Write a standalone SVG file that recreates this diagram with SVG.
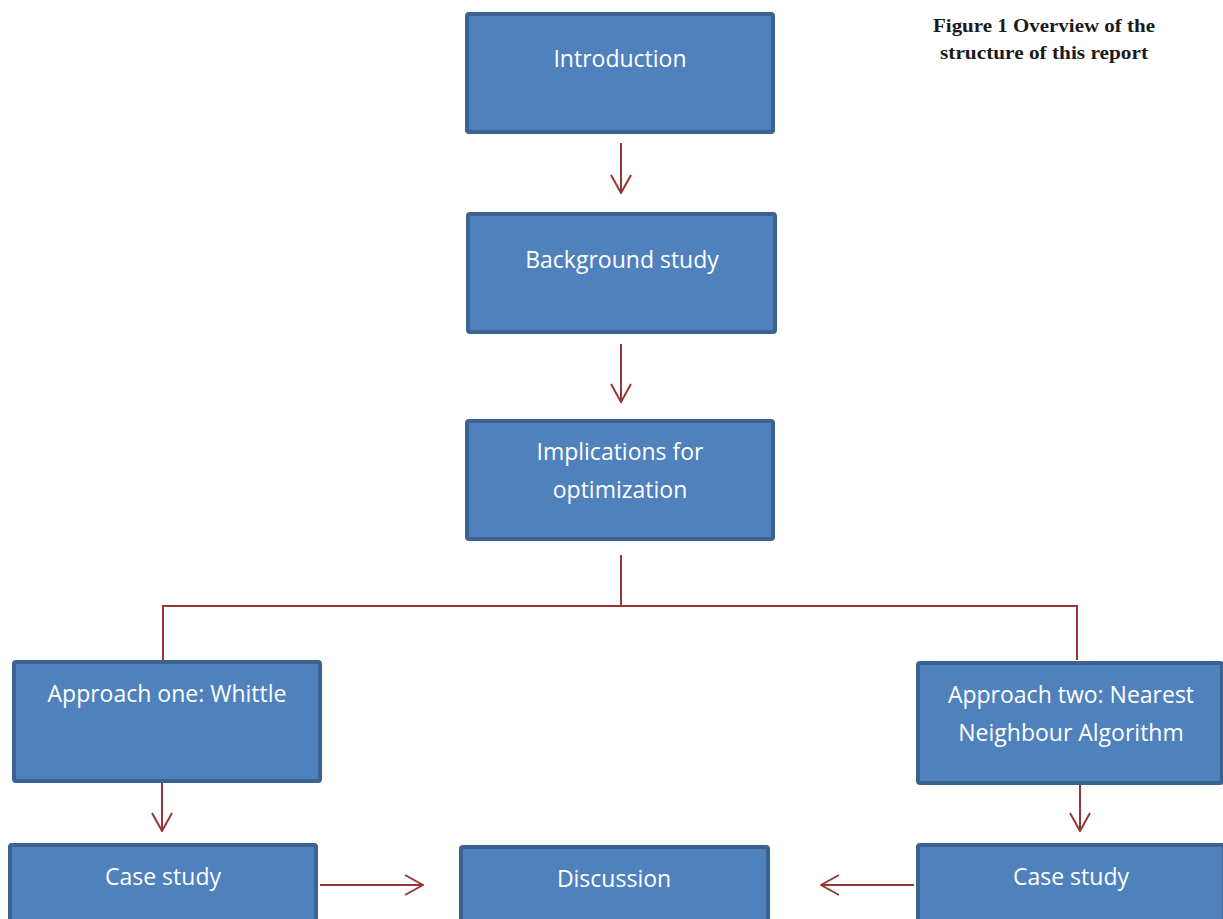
<svg xmlns="http://www.w3.org/2000/svg" width="1223" height="919" viewBox="0 0 1223 919">
<style>
.box{fill:#4F81BD;stroke:#3B6290;stroke-width:4}
.lbl{fill:#FFFFFF;font-family:"Open Sans","Noto Sans",sans-serif;font-size:23px;text-anchor:middle}
.con{stroke:#953735;stroke-width:2;fill:none}
.cap{fill:#1a1a1a;font-family:"Liberation Serif",serif;font-weight:bold;font-size:18px;text-anchor:middle}
</style>
<defs>
<marker id="ah" viewBox="0 0 20 24" refX="19" refY="12" markerWidth="20" markerHeight="24" markerUnits="userSpaceOnUse" orient="auto">
<path d="M1,2 L19,12 L1,22" fill="none" stroke="#953735" stroke-width="2"/>
</marker>
</defs>
<rect width="1223" height="919" fill="#FFFFFF"/>
<g id="caption">
<text class="cap" x="1044" y="32" textLength="222" lengthAdjust="spacingAndGlyphs">Figure 1 Overview of the</text>
<text class="cap" x="1044" y="59" textLength="208" lengthAdjust="spacingAndGlyphs">structure of this report</text>
</g>
<g id="connectors">
<line class="con" x1="621" y1="143" x2="621" y2="193" marker-end="url(#ah)"/>
<line class="con" x1="621" y1="344" x2="621" y2="402" marker-end="url(#ah)"/>
<polyline class="con" points="621,555 621,606"/>
<polyline class="con" points="163,660 163,606 1077,606 1077,660"/>
<line class="con" x1="162" y1="783" x2="162" y2="831" marker-end="url(#ah)"/>
<line class="con" x1="1080" y1="785" x2="1080" y2="831" marker-end="url(#ah)"/>
<line class="con" x1="320" y1="885" x2="423" y2="885" marker-end="url(#ah)"/>
<line class="con" x1="914" y1="885" x2="821" y2="885" marker-end="url(#ah)"/>
</g>
<g id="introduction">
<rect class="box" x="467" y="14" width="306" height="118" rx="2"/>
<text class="lbl" x="620" y="67">Introduction</text>
</g>
<g id="background">
<rect class="box" x="468" y="214" width="307" height="118" rx="2"/>
<text class="lbl" x="622" y="268">Background study</text>
</g>
<g id="implications">
<rect class="box" x="467" y="421" width="306" height="118" rx="2"/>
<text class="lbl" x="620" y="460">Implications for</text>
<text class="lbl" x="620" y="498">optimization</text>
</g>
<g id="approach-one">
<rect class="box" x="14" y="662" width="306" height="119" rx="2"/>
<text class="lbl" x="167" y="702">Approach one: Whittle</text>
</g>
<g id="approach-two">
<rect class="box" x="918" y="663" width="304" height="120" rx="2"/>
<text class="lbl" x="1071" y="703">Approach two: Nearest</text>
<text class="lbl" x="1071" y="741">Neighbour Algorithm</text>
</g>
<g id="case-study-left">
<rect class="box" x="10" y="845" width="306" height="90" rx="2"/>
<text class="lbl" x="163" y="885">Case study</text>
</g>
<g id="discussion">
<rect class="box" x="461" y="847" width="307" height="90" rx="2"/>
<text class="lbl" x="614" y="887">Discussion</text>
</g>
<g id="case-study-right">
<rect class="box" x="918" y="845" width="306" height="90" rx="2"/>
<text class="lbl" x="1071" y="885">Case study</text>
</g>
</svg>
